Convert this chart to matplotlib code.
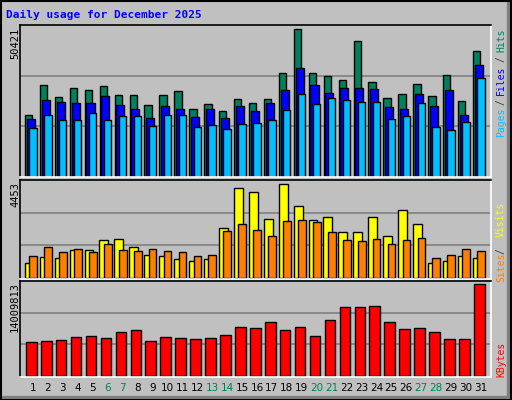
import matplotlib
matplotlib.use("Agg")
import matplotlib.pyplot as plt
from matplotlib.patches import Rectangle
import numpy as np

# Webalizer-style daily usage, December 2025
days = list(range(1, 32))
weekend = [6, 7, 13, 14, 20, 21, 27, 28]

hits = [21331, 31255, 27149, 30229, 29545, 30913, 27833, 27833, 24411, 27833,
        29202, 23385, 24753, 22700, 26464, 25096, 26464, 35362, 50421, 35362,
        34335, 32966, 46313, 32282, 26806, 28175, 31597, 27491, 34677, 25780, 42890]
files = [19962, 26122, 25437, 25096, 25096, 27491, 24411, 23385, 20304, 24069,
         23385, 20647, 23385, 20304, 24069, 22700, 25096, 29544, 37073, 31255,
         28518, 30229, 30229, 29886, 23727, 23385, 28175, 24069, 29544, 21331, 38099]
pages = [16882, 21331, 19620, 19620, 22015, 19620, 20989, 20989, 17567, 21331,
         21331, 17225, 17909, 16540, 18251, 18593, 19620, 23042, 28175, 24753,
         26806, 26122, 25437, 25437, 19962, 20989, 25096, 17225, 16198, 18935, 33651]
visits = [691, 997, 933, 1319, 1319, 1801, 1849, 1463, 1077, 1029,
          884, 788, 884, 2380, 4261, 4068, 2814, 4453, 3441, 2766,
          2910, 2187, 2187, 2910, 1994, 3248, 2573, 691, 788, 1029, 933]
sites = [1029, 1463, 1222, 1367, 1222, 1608, 1319, 1270, 1367, 1270,
         1222, 1029, 1077, 2235, 2573, 2283, 1994, 2718, 2766, 2669,
         2187, 1801, 1753, 1849, 1608, 1801, 1897, 933, 1077, 1367, 1270]
kbytes = [5113100, 5266500, 5419900, 5880100, 6033500, 5726700, 6647000, 6953800,
          5266500, 5880100, 5726700, 5573300, 5726700, 6186900, 7414000, 7260600,
          8181000, 6953800, 7414000, 6033500, 8487700, 10481900, 10481900, 10635200,
          8181000, 7107200, 7260600, 6647000, 5573300, 5573300, 14009813]

W, H = 512, 400
BG = "#C0C0C0"
GREEN, BLUE, CYAN = "#00805C", "#0000FF", "#00C0FF"
YEL, ORG, RED = "#FFFF00", "#FF8000", "#FF0000"
MONO = "DejaVu Sans Mono"

fig = plt.figure(figsize=(W / 100, H / 100), dpi=100)
fig.patch.set_facecolor(BG)


def fx(x):
    return x / W


def fy(y):
    return 1 - y / H


def panel(y0, y1):
    ax = fig.add_axes([fx(20), fy(y1), fx(490.7) - fx(20), fy(y0) - fy(y1)])
    ax.set_facecolor(BG)
    ax.set_xlim(0.13, 31.65)
    ax.set_xticks([])
    ax.set_yticks([])
    for s in ["left", "top"]:
        ax.spines[s].set_color("black")
    for s in ["right", "bottom"]:
        ax.spines[s].set_color("white")
    for s in ax.spines.values():
        s.set_linewidth(1.2)
    return ax


x = np.array(days)

# top panel: hits / files / pages
ax1 = panel(25, 177)
top1 = max(hits) * 151.7 / 147.4
ax1.set_ylim(0, top1)
for g in (top1 / 3, top1 * 2 / 3):
    ax1.axhline(g, color="#808080", lw=1.2, zorder=0)
ax1.bar(x - 0.536, hits, 0.49, align="edge", color=GREEN, edgecolor="black", lw=1)
ax1.bar(x - 0.42, files, 0.54, align="edge", color=BLUE, edgecolor="black", lw=1)
ax1.bar(x - 0.25, pages, 0.49, align="edge", color=CYAN, edgecolor="black", lw=1)

# middle panel: visits / sites
ax2 = panel(180, 279)
top2 = max(visits) * 98 / 93.7
ax2.set_ylim(-top2 * 0.013, top2)
for g in (top2 / 3, top2 * 2 / 3):
    ax2.axhline(g, color="#808080", lw=1.2, zorder=0)
ax2.bar(x - 0.55, visits, 0.6, align="edge", color=YEL, edgecolor="black", lw=1)
ax2.bar(x - 0.25, sites, 0.52, align="edge", color=ORG, edgecolor="black", lw=1)

# bottom panel: kbytes
ax3 = panel(281, 377)
top3 = max(kbytes) * 94.7 / 91.4
ax3.set_ylim(-top3 * 0.012, top3)
for g in (top3 / 3, top3 * 2 / 3):
    ax3.axhline(g, color="#808080", lw=1.2, zorder=0)
ax3.bar(x - 0.47, kbytes, 0.71, align="edge", color=RED, edgecolor="black", lw=1)

# title and max labels
fig.text(fx(6), fy(15), "Daily usage for December 2025", color=BLUE,
         fontsize=8, fontweight="bold", family=MONO, va="center")
fig.text(fx(15), fy(28), str(max(hits)), rotation=90, fontsize=7.5,
         family=MONO, ha="center", va="top")
fig.text(fx(15), fy(182), str(max(visits)), rotation=90, fontsize=7.5,
         family=MONO, ha="center", va="top")
fig.text(fx(15), fy(282), str(max(kbytes)), rotation=90, fontsize=7.5,
         family=MONO, ha="center", va="top")

# right-hand legends
legend_parts = [("Hits", 40, GREEN), ("/", 59, "#404040"), ("Files", 80, BLUE),
                ("/", 102, "#404040"), ("Pages", 122, CYAN),
                ("Visits", 219, YEL), ("/", 251, "#404040"), ("Sites", 267, ORG),
                ("KBytes", 359, RED)]
for txt, yc, col in legend_parts:
    fig.text(fx(501), fy(yc), txt, rotation=90, color=col, fontsize=7,
             family=MONO, ha="center", va="center")

# day labels
for d in days:
    col = GREEN if d in weekend else "black"
    fig.text(fx(33 + (d - 1) * 14.93), fy(388), str(d), color=col,
             fontsize=7.5, ha="center", va="center")

# 3D-ish frame: dark right and bottom edges, black outline
fig.patches.append(Rectangle((fx(507), 0), fx(5), 1, transform=fig.transFigure,
                             color="#808080", zorder=-1))
fig.patches.append(Rectangle((0, 0), 1, fy(396), transform=fig.transFigure,
                             color="#808080", zorder=-1))
fig.patches.append(Rectangle((0.001, 0.001), 0.997, 0.997, transform=fig.transFigure,
                             fill=False, edgecolor="black", lw=1.5))

fig.savefig("out.png", dpi=100, facecolor=BG)
